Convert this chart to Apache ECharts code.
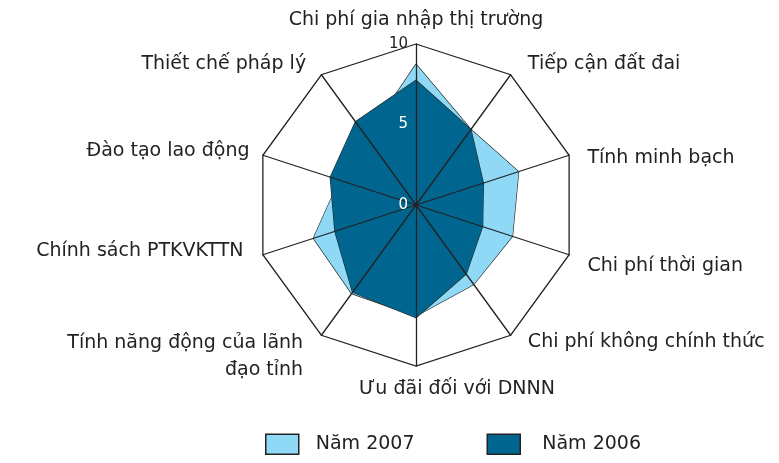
<!DOCTYPE html>
<html>
<head>
<meta charset="utf-8">
<script src="https://cdn.jsdelivr.net/npm/echarts@6/dist/echarts.min.js"></script>
<style>
html,body{margin:0;padding:0;background:#fff;}
#c{width:779px;height:463px;}
</style>
</head>
<body>
<div id="c"></div>
<script>
// Indicators listed clockwise from the top, as in the reference
const indicatorNames = [
  'Chi phí gia nhập thị trường',
  'Tiếp cận đất đai',
  'Tính minh bạch',
  'Chi phí thời gian',
  'Chi phí không chính thức',
  'Ưu đãi đối với DNNN',
  'Tính năng động của lãnh\nđạo tỉnh',
  'Chính sách PTKVKTTN',
  'Đào tạo lao động',
  'Thiết chế pháp lý'
];
const seriesNames = ['Năm 2007', 'Năm 2006'];
const values2007 = [8.75, 5.8, 6.7, 6.3, 6.1, 6.9, 6.8, 6.7, 5.0, 5.2];
const values2006 = [7.75, 5.8, 4.4, 4.35, 5.3, 7.0, 6.7, 5.3, 5.6, 6.4];
const axisMax = 10;

// ECharts places radar indicators counter-clockwise; reorder to get clockwise layout
function ccw(arr) { return [arr[0]].concat(arr.slice(1).reverse()); }

const FONT = 'DejaVu Sans';
const FS = 19;
const indicators = ccw(indicatorNames).map((n, i) => {
  const o = { name: n, min: 0, max: axisMax };
  if (i === 0) o.axisLabel = { show: true };
  return o;
});

// per-label nudges (rich-text padding) to follow the reference's hand-placed labels
const nameStyleKey = {
  'Tiếp cận đất đai': 'p1',
  'Tính minh bạch': 'p2',
  'Chi phí thời gian': 'p2',
  'Chi phí không chính thức': 'p3',
  'Ưu đãi đối với DNNN': 'u',
  'Chính sách PTKVKTTN': 'p4',
  'Thiết chế pháp lý': 'p5'
};
function rs(extra) {
  return Object.assign({ fontFamily: FONT, fontSize: FS, color: '#222' }, extra);
}

const chart = echarts.init(document.getElementById('c'), null, { renderer: 'canvas' });
chart.setOption({
  animation: false,
  legend: {
    bottom: 3,
    left: 260,
    itemWidth: 33,
    itemHeight: 20,
    itemGap: 72,
    textStyle: { fontFamily: FONT, fontSize: 19, color: '#222', padding: [0, 0, 0, 12] },
    data: seriesNames.map((n, i) => ({
      name: n, icon: 'rect',
      itemStyle: { borderColor: '#222', borderWidth: 1.5 },
      textStyle: { padding: [0, 0, 0, i === 0 ? 12 : 17] }
    }))
  },
  radar: {
    z: 3,
    center: [416, 205],
    radius: 161,
    startAngle: 90,
    shape: 'polygon',
    splitNumber: 2,
    nameGap: 14,
    axisName: {
      color: '#222', fontFamily: FONT, fontSize: FS,
      formatter: function (name) {
        if (name.indexOf('\n') >= 0) {
          const parts = name.split('\n');
          return '{s| }\n{t|' + parts[0] + '}\n{t|' + parts[1] + '}';
        }
        const k = nameStyleKey[name];
        return k ? '{' + k + '|' + name + '}' : name;
      },
      rich: {
        u: rs({ padding: [0, 0, 0, 82] }),
        p1: rs({ padding: [2, 0, 0, 9] }),
        p2: rs({ padding: [14, 0, 0, 5] }),
        p3: rs({ padding: [0, 0, 10, 9] }),
        p4: rs({ padding: [0, 6, 16, 0] }),
        p5: rs({ padding: [2, 7, 0, 0] }),
        s: rs({ fontSize: 6, lineHeight: 20 }),
        t: rs({ lineHeight: 27, padding: [0, 10, 0, 0] })
      }
    },
    axisLine: { lineStyle: { color: '#222', width: 1.3 } },
    splitLine: { lineStyle: { color: ['rgba(0,0,0,0)', 'rgba(0,0,0,0)', '#222'], width: 1.3 } },
    splitArea: { show: false },
    axisTick: { show: false },
    axisLabel: {
      show: false,
      fontFamily: FONT,
      fontSize: 15,
      margin: 8,
      color: function (v) { return Number(v) >= 10 ? '#222' : '#fff'; }
    },
    indicator: indicators
  },
  series: [{
    type: 'radar',
    z: 2,
    symbol: 'none',
    data: [
      {
        name: seriesNames[0],
        value: ccw(values2007),
        itemStyle: { color: '#8fd9f7' },
        lineStyle: { color: '#222', width: 1.2 },
        areaStyle: { color: '#8fd9f7', opacity: 1 }
      },
      {
        name: seriesNames[1],
        value: ccw(values2006),
        itemStyle: { color: '#00658f' },
        lineStyle: { color: '#222', width: 1.2 },
        areaStyle: { color: '#00658f', opacity: 1 }
      }
    ]
  }]
});
</script>
</body>
</html>
